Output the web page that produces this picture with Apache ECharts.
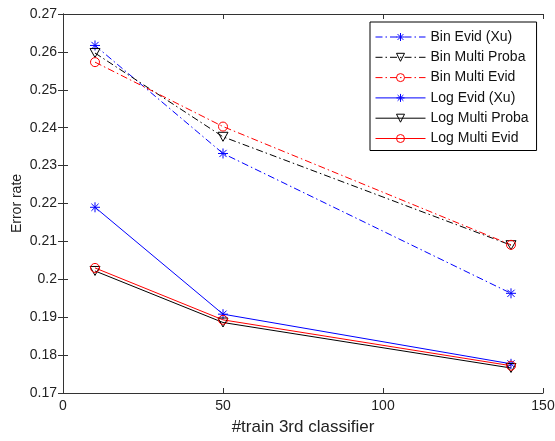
<!DOCTYPE html>
<html>
<head>
<meta charset="utf-8">
<script src="https://cdn.jsdelivr.net/npm/echarts@6/dist/echarts.min.js"></script>
<style>
  html, body { margin: 0; padding: 0; background: #fff; }
  #chart { width: 555px; height: 441px; }
</style>
</head>
<body>
<div id="chart"></div>
<script>
// Number of training samples for the third classifier
const trainSizes = [10, 50, 140];

// Error rates per method
const binEvidXu      = [0.2617, 0.2332, 0.1963];
const binMultiProba  = [0.2597, 0.2376, 0.2090];
const binMultiEvid   = [0.2573, 0.2403, 0.2091];
const logEvidXu      = [0.2190, 0.1908, 0.1777];
const logMultiProba  = [0.2022, 0.1886, 0.1766];
const logMultiEvid   = [0.2030, 0.1893, 0.1772];

const seriesNames = [
  'Bin Evid (Xu)', 'Bin Multi Proba', 'Bin Multi Evid',
  'Log Evid (Xu)', 'Log Multi Proba', 'Log Multi Evid'
];

const xTicks = [0, 50, 100, 150];
const yMin = 0.17, yMax = 0.27, yStep = 0.01;

const FONT = 'Liberation Sans, Arial, sans-serif';
const AXIS_COLOR = '#333';

// Hollow markers drawn as stroked outlines
const STAR = 'path://M0,-5L0,5M-5,0L5,0M-3.6,-3.6L3.6,3.6M-3.6,3.6L3.6,-3.6';
const CIRCLE = 'path://M-5,0A5,5 0 1,0 5,0A5,5 0 1,0 -5,0Z';
const TRI_DOWN = 'path://M-5,-4.2L5,-4.2L0,4.8Z';
const DASH_DOT = [7, 3, 1.5, 3];

function pair(values) {
  return trainSizes.map((x, i) => [x, values[i]]);
}

function makeSeries(name, values, color, dashed, marker) {
  const shapes = { star: [STAR, 10], tri: [TRI_DOWN, 10], circle: [CIRCLE, 9] };
  return {
    name: name,
    type: 'line',
    data: pair(values),
    xAxisIndex: 0,
    yAxisIndex: 0,
    animation: false,
    symbol: shapes[marker][0],
    symbolSize: shapes[marker][1],
    symbolKeepAspect: true,
    lineStyle: { color: color, width: 1, type: dashed ? DASH_DOT : 'solid' },
    itemStyle: { color: 'none', borderColor: color, borderWidth: 1 },
    emphasis: { disabled: true }
  };
}

const series = [
  makeSeries(seriesNames[0], binEvidXu, '#0000ff', true, 'star'),
  makeSeries(seriesNames[1], binMultiProba, '#000000', true, 'tri'),
  makeSeries(seriesNames[2], binMultiEvid, '#ff0000', true, 'circle'),
  makeSeries(seriesNames[3], logEvidXu, '#0000ff', false, 'star'),
  makeSeries(seriesNames[4], logMultiProba, '#000000', false, 'tri'),
  makeSeries(seriesNames[5], logMultiEvid, '#ff0000', false, 'circle')
];

const tickStyle = { show: true, inside: true, length: 5, lineStyle: { color: AXIS_COLOR, width: 1 } };
const lineStyleAxis = { show: true, lineStyle: { color: AXIS_COLOR, width: 1 } };

const option = {
  backgroundColor: '#fff',
  animation: false,
  grid: { left: 63, right: 12, top: 14, bottom: 48, containLabel: false, outerBoundsMode: 'none' },
  xAxis: [
    {
      type: 'value', min: xTicks[0], max: xTicks[xTicks.length - 1], interval: 50,
      position: 'bottom',
      name: '#train 3rd classifier', nameLocation: 'middle', nameGap: 26,
      nameMoveOverlap: false,
      nameTextStyle: { fontFamily: FONT, fontSize: 17, color: '#222' },
      axisLine: lineStyleAxis, axisTick: tickStyle,
      axisLabel: { fontFamily: FONT, fontSize: 14, color: '#222', margin: 6 },
      splitLine: { show: false }
    },
    {
      type: 'value', min: xTicks[0], max: xTicks[xTicks.length - 1], interval: 50,
      position: 'top',
      axisLine: lineStyleAxis, axisTick: tickStyle,
      axisLabel: { show: false }, splitLine: { show: false }
    }
  ],
  yAxis: [
    {
      type: 'value', min: yMin, max: yMax, interval: yStep,
      position: 'left',
      name: 'Error rate', nameLocation: 'middle', nameGap: 39, nameRotate: 90,
      nameMoveOverlap: false,
      nameTextStyle: { fontFamily: FONT, fontSize: 14, color: '#222' },
      axisLine: lineStyleAxis, axisTick: tickStyle,
      axisLabel: {
        fontFamily: FONT, fontSize: 14, color: '#222', margin: 6,
        formatter: v => String(parseFloat(v.toFixed(2)))
      },
      splitLine: { show: false }
    },
    {
      type: 'value', min: yMin, max: yMax, interval: yStep,
      position: 'right',
      axisLine: lineStyleAxis, axisTick: tickStyle,
      axisLabel: { show: false }, splitLine: { show: false }
    }
  ],
  legend: {
    data: seriesNames,
    orient: 'vertical',
    left: 370, top: 22,
    padding: [8, 8, 5, 5],
    itemWidth: 50, itemHeight: 10, itemGap: 6.3,
    borderColor: '#000', borderWidth: 1,
    backgroundColor: '#fff',
    lineStyle: { width: 1 },
    itemStyle: { borderWidth: 1 },
    textStyle: { fontFamily: FONT, fontSize: 14, color: '#111' }
  },
  series: series
};

const chart = echarts.init(document.getElementById('chart'), null, { renderer: 'canvas' });
chart.setOption(option);
</script>
</body>
</html>
